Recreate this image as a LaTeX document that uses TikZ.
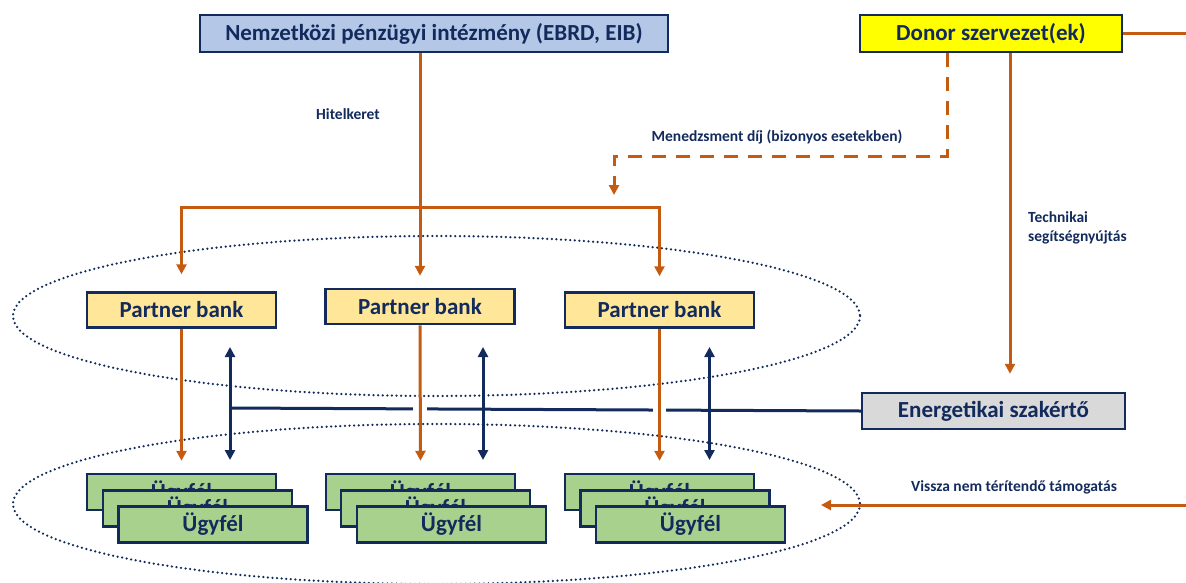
\documentclass[tikz,border=0pt]{standalone}
\usepackage{fontspec}
\setmainfont{Carlito}
\usetikzlibrary{arrows.meta}
\definecolor{navy}{HTML}{122A5C}
\definecolor{rust}{HTML}{C55A11}
\definecolor{ifiblue}{HTML}{B4C7E7}
\definecolor{bankyel}{HTML}{FFE699}
\definecolor{clientgreen}{HTML}{A9D18E}
\definecolor{expertgrey}{HTML}{D9D9D9}
\definecolor{donoryel}{HTML}{FFFF00}

\begin{document}
\begin{tikzpicture}[x=1pt,y=-1pt,
  box/.style={draw=navy, line width=2.5pt, rectangle, inner sep=0pt, text=navy,
              font=\fontsize{23}{27}\selectfont\bfseries},
  bankbox/.style={box, fill=bankyel, minimum width=189pt, minimum height=35pt},
  clientbox/.style={box, fill=clientgreen, minimum width=189pt, minimum height=36pt},
  lbl/.style={text=navy, font=\fontsize{15.5}{19}\selectfont\bfseries, inner sep=0pt},
  flow/.style={draw=rust, line width=3pt},
  tip/.style={-{Triangle[length=10pt,width=10pt]}},
  link/.style={draw=navy, line width=3pt},
  twoway/.style={link, {Triangle[length=10pt,width=10pt]}-{Triangle[length=10pt,width=10pt]}},
  ring/.style={draw=navy, line width=2.5pt, line cap=round, dash pattern=on 0pt off 4.6pt},
]
\useasboundingbox (0,0) rectangle (1186,582);

% groups: partner banks and their clients
\draw[ring] (436.5,316) ellipse [x radius=423.5, y radius=80];
\draw[ring] (436.5,504) ellipse [x radius=423.5, y radius=80];

% top level actors
\node[box, fill=ifiblue, minimum width=468pt, minimum height=37pt] (ifi) at (434,33.5)
  {Nemzetközi pénzügyi intézmény (EBRD, EIB)};
\node[box, fill=donoryel, minimum width=262pt, minimum height=37pt] (donor) at (991,33.5)
  {Donor szervezet(ek)};

% partner banks
\node[bankbox] (pb1) at (181.5,310) {Partner bank};
\node[bankbox] (pb2) at (420,306.5) {Partner bank};
\node[bankbox] (pb3) at (659.5,310) {Partner bank};

% energy expert
\node[box, fill=expertgrey, minimum width=263pt, minimum height=36pt] (ee) at (993.5,411)
  {Energetikai szakértő};

% helper points
\coordinate (split) at (420,207);
\coordinate (feeturn) at (947,156);
\coordinate (feeend) at (614,195);
\coordinate (techx) at (1010,0);
\coordinate (donorout) at (1186,33.5);
\coordinate (grantin) at (1186,505);
\coordinate (grantend) at (821,505);
\coordinate (d1t) at (230,347);   \coordinate (d1b) at (230,460);
\coordinate (d2t) at (483,347);   \coordinate (d2b) at (483,460);
\coordinate (d3t) at (709.5,347); \coordinate (d3b) at (709.5,460);
\coordinate (d1m) at (230,408);

% expert link to the bank-client relations
\draw[link] (ee.west) -- (d1m);
\fill[white] (413,403) rectangle (427,417);
\fill[white] (653,403) rectangle (666,417);

% credit line
\draw[flow, tip, shorten >=12pt] (ifi.south -| pb2.north) -- (pb2.north);
\draw[flow, {Triangle[length=10pt,width=10pt]}-{Triangle[length=10pt,width=10pt]},
      shorten <=17pt, shorten >=15pt]
  (pb1.north) -- (pb1.north |- split) -- (pb3.north |- split) -- (pb3.north);
\node[lbl] (lcredit) at (348,114) {Hitelkeret};

% management fee
\draw[flow, dash pattern=on 14pt off 10pt, tip]
  (donor.south -| feeturn) -- (feeturn) -- (feeturn -| feeend) -- (feeend);
\node[lbl] (lfee) at (777,137) {Menedzsment díj (bizonyos esetekben)};

% technical assistance
\draw[flow, tip, shorten >=18pt] (donor.south -| techx) -- (ee.north -| techx);
\node[lbl, anchor=west, align=left] (ltech) at (1028,228) {Technikai\\segítségnyújtás};

% donor outflow and grant
\draw[flow] (donor.east) -- (donorout);
\draw[flow, tip] (grantin) -- (grantend);
\node[lbl] (lgrant) at (1014,487) {Vissza nem térítendő támogatás};

% clients
\node[clientbox] (u1a) at (181.5,492) {Ügyfél};
\node[clientbox] (u1b) at (197.5,508.5) {Ügyfél};
\node[clientbox] (u1c) at (213,524.5) {Ügyfél};
\node[clientbox] (u2a) at (420.5,492) {Ügyfél};
\node[clientbox] (u2b) at (435.5,508.5) {Ügyfél};
\node[clientbox] (u2c) at (451.5,524.5) {Ügyfél};
\node[clientbox] (u3a) at (659.5,492) {Ügyfél};
\node[clientbox] (u3b) at (675,508.5) {Ügyfél};
\node[clientbox] (u3c) at (690.5,524.5) {Ügyfél};

% loans from banks to clients
\draw[flow, tip, shorten >=12pt] (pb1.south) -- (u1a.north);
\draw[flow, tip, shorten >=12pt] (pb2.south) -- (u2a.north);
\draw[flow, tip, shorten >=12pt] (pb3.south) -- (u3a.north);

% bank-client relations
\draw[twoway] (d1t) -- (d1b);
\draw[twoway] (d2t) -- (d2b);
\draw[twoway] (d3t) -- (d3b);
\end{tikzpicture}
\end{document}
